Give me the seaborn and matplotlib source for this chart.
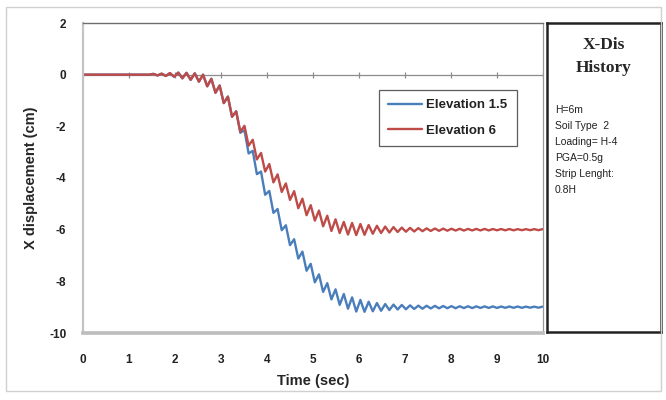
import numpy as np
import pandas as pd
import matplotlib
matplotlib.use("Agg")
import matplotlib.pyplot as plt
from matplotlib.patches import Rectangle
import seaborn as sns

# sampling step (half of ~0.18 s period)
time_step = 0.09
n_samples = 112

elev_6 = [
    0, 0, 0, 0, 0, 0, 0, 0, 0, 0, 0, 0, 0, 0, 0, 0, 0,
    0.03, -0.03, 0.04, -0.05, 0.06, -0.08, 0.08, -0.14, 0.07, -0.2,
    0.05, -0.27, 0.0, -0.45, -0.16, -0.7, -0.42, -1.1, -0.85, -1.63,
    -1.42, -2.21, -1.98, -2.75, -2.52, -3.28, -3.03, -3.75, -3.46, -4.17,
    -3.86, -4.54, -4.21, -4.85, -4.51, -5.17, -4.8, -5.44, -5.05, -5.65,
    -5.26, -5.87, -5.46, -6.05, -5.6, -6.13, -5.7, -6.19, -5.74, -6.21,
    -5.78, -6.2, -5.82, -6.16, -5.85, -6.13, -5.88, -6.11, -5.9, -6.09,
    -5.92, -6.08, -5.93, -6.07, -5.94, -6.06, -5.95, -6.05, -5.955, -6.045,
    -5.96, -6.04, -5.965, -6.035, -5.965, -6.035, -5.97, -6.03, -5.97, -6.03,
    -5.97, -6.03, -5.975, -6.025, -5.975, -6.025, -5.975, -6.025, -5.98, -6.02,
    -5.98, -6.02, -5.98, -6.02, -5.98,
]

elev_1_5 = [
    0, 0, 0, 0, 0, 0, 0, 0, 0, 0, 0, 0, 0, 0, 0, 0, 0,
    0.03, -0.03, 0.04, -0.05, 0.06, -0.08, 0.08, -0.14, 0.07, -0.2,
    0.05, -0.27, 0.0, -0.45, -0.16, -0.7, -0.42, -1.1, -0.85, -1.63,
    -1.42, -2.25, -2.15, -3.05, -2.95, -3.85, -3.75, -4.65, -4.5, -5.35,
    -5.2, -6.02, -5.83, -6.6, -6.37, -7.12, -6.85, -7.59, -7.32, -8.04,
    -7.73, -8.41, -8.07, -8.7, -8.31, -8.91, -8.49, -9.06, -8.62, -9.17,
    -8.72, -9.18, -8.79, -9.16, -8.84, -9.14, -8.88, -9.11, -8.9, -9.09,
    -8.915, -9.08, -8.93, -9.07, -8.94, -9.06, -8.945, -9.05, -8.95, -9.045,
    -8.955, -9.04, -8.96, -9.04, -8.965, -9.035, -8.965, -9.035, -8.97, -9.03,
    -8.97, -9.03, -8.97, -9.03, -8.975, -9.025, -8.975, -9.025, -8.975, -9.025,
    -8.98, -9.02, -8.98, -9.02, -8.98,
]

series_names = ["Elevation 1.5", "Elevation 6"]
series_colors = ["#4a7ebb", "#be4b48"]
x_ticks = [0, 1, 2, 3, 4, 5, 6, 7, 8, 9, 10]
y_ticks = [-10, -8, -6, -4, -2, 0, 2]
info_lines = ["H=6m", "Soil Type  2", "Loading= H-4", "PGA=0.5g", "Strip Lenght:", "0.8H"]

time = np.round(np.arange(n_samples) * time_step, 2)
df = pd.concat([
    pd.DataFrame({"time": time, "disp": elev_1_5, "series": series_names[0]}),
    pd.DataFrame({"time": time, "disp": elev_6, "series": series_names[1]}),
])

sns.set_style("white")
plt.rcParams["font.family"] = ["Liberation Sans", "DejaVu Sans"]
plt.rcParams["axes.unicode_minus"] = False

W, H = 666, 400
fig = plt.figure(figsize=(W / 100, H / 100), dpi=100)

# outer chart frame
fig.patches.append(Rectangle((6 / W, 1 - 391 / H), 655 / W, 384 / H, transform=fig.transFigure,
                             fill=False, edgecolor="#d0d0d0", linewidth=1))

ax = fig.add_axes([83 / W, 1 - 333 / H, 460 / W, 310 / H])
sns.lineplot(data=df, x="time", y="disp", hue="series", palette=series_colors,
             linewidth=1.7, ax=ax, legend=True)

ax.set_xlim(0, 10)
ax.set_ylim(-10, 2)
ax.set_xticks(x_ticks)
ax.set_yticks(y_ticks)
ax.tick_params(axis="x", length=0, pad=15, labelsize=8.5)
ax.tick_params(axis="y", length=5, width=0.8, color="#a0a0a0", direction="out", pad=7, labelsize=8.5)
for lab in ax.get_xticklabels() + ax.get_yticklabels():
    lab.set_fontweight("bold")
    lab.set_color("#222222")

# Excel style axis line crossing at zero
ax.axhline(0, color="#8c8c8c", linewidth=0.9, zorder=1)
ax.vlines(x_ticks, -0.12, 0.12, color="#8c8c8c", linewidth=0.9, zorder=1)

ax.spines["top"].set_color("#6e6e6e")
ax.spines["top"].set_linewidth(1.0)
ax.spines["right"].set_color("#9a9a9a")
ax.spines["right"].set_linewidth(0.9)
ax.spines["left"].set_color("#c4c4c4")
ax.spines["left"].set_linewidth(1.6)
ax.spines["bottom"].set_color("#bdbdbd")
ax.spines["bottom"].set_linewidth(2.6)

ax.set_xlabel("Time (sec)", fontsize=10.5, fontweight="bold", labelpad=6)
ax.set_ylabel("X displacement (cm)", fontsize=10.5, fontweight="bold", labelpad=8)

leg = ax.legend(loc="upper right", bbox_to_anchor=(0.957, 0.806), frameon=True,
                prop={"size": 9.5, "weight": "semibold"},
                fancybox=False, handlelength=2.6, handletextpad=0.3, borderpad=0.7,
                labelspacing=1.0)
leg.get_frame().set_edgecolor("#333333")
leg.get_frame().set_linewidth(0.9)
for t in leg.get_texts():
    t.set_color("#222222")

# side note panel
box = fig.add_axes([547 / W, 1 - 332 / H, 114 / W, 309 / H])
box.set_xticks([])
box.set_yticks([])
for sp in box.spines.values():
    sp.set_color("#222222")
    sp.set_linewidth(1.8)
box.text(0.5, 0.928, "X-Dis", ha="center", va="center", fontsize=12.5, fontweight="bold",
         family="Liberation Serif", transform=box.transAxes)
box.text(0.5, 0.853, "History", ha="center", va="center", fontsize=12.5, fontweight="bold",
         family="Liberation Serif", transform=box.transAxes)
for k, line in enumerate(info_lines):
    box.text(0.07, 0.72 - k * 0.052, line, ha="left", va="center", fontsize=7.5,
             color="#222222", transform=box.transAxes)

fig.savefig("out.png", dpi=100)
